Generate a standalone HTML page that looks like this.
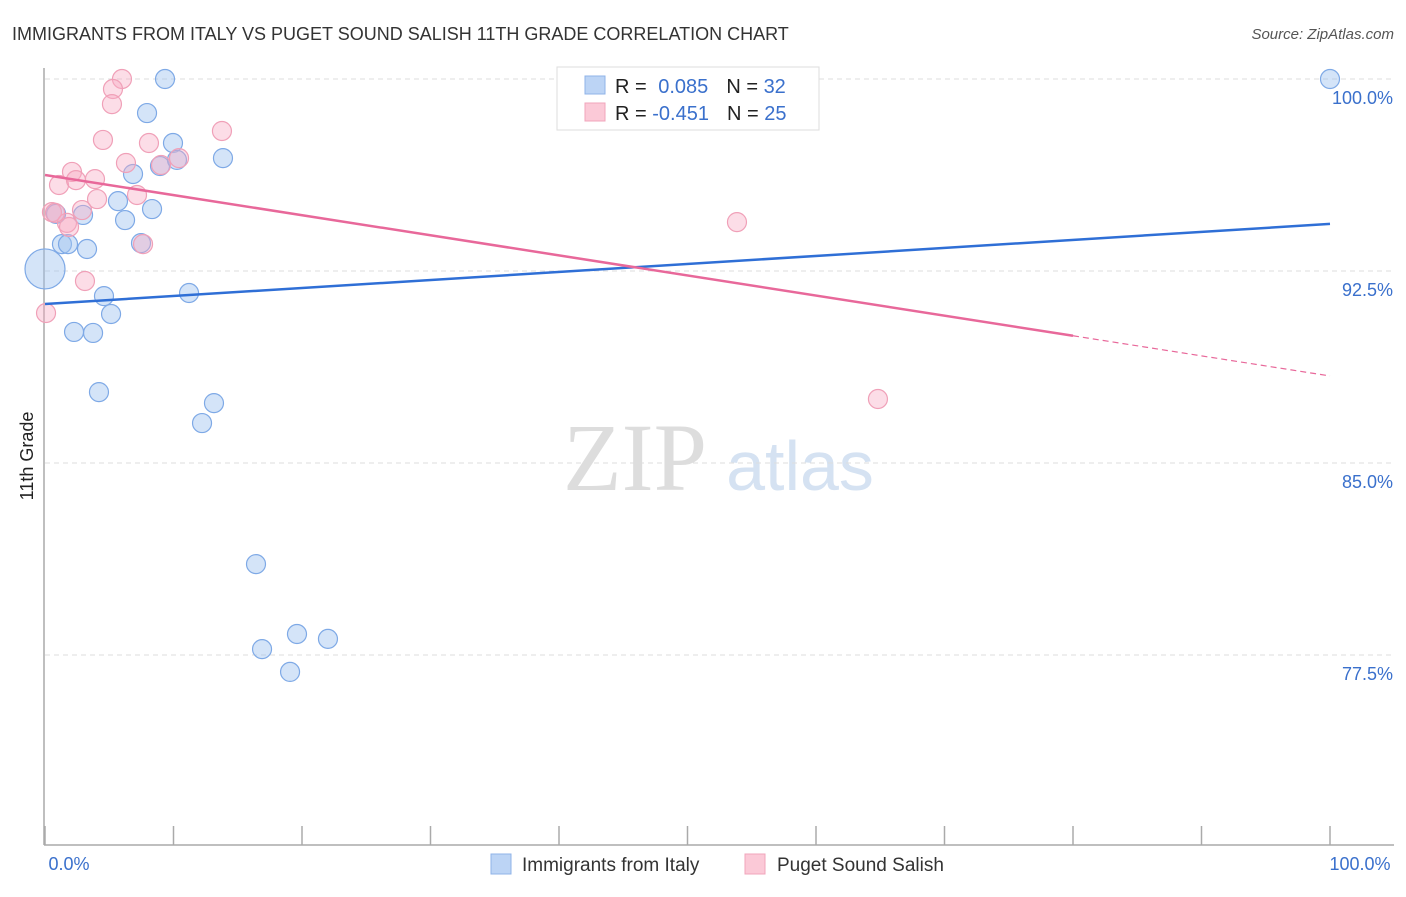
<!DOCTYPE html>
<html><head><meta charset="utf-8"><style>
body{margin:0;background:#fff;font-family:"Liberation Sans",sans-serif}
</style></head><body>
<svg id="c" width="1406" height="892" xmlns="http://www.w3.org/2000/svg" font-family="Liberation Sans, sans-serif">
<text x="12" y="40" font-size="18" fill="#333">IMMIGRANTS FROM ITALY VS PUGET SOUND SALISH 11TH GRADE CORRELATION CHART</text>
<text x="1394" y="39" font-size="15" fill="#555" font-style="italic" text-anchor="end">Source: ZipAtlas.com</text>
<text x="33" y="456" font-size="18" fill="#222" transform="rotate(-90 33 456)" text-anchor="middle">11th Grade</text>
<g><text x="635" y="490" font-size="96" fill="#ddd" font-family="Liberation Serif, serif" text-anchor="middle">ZIP</text><text x="800" y="490" font-size="70" fill="#d5e2f2" text-anchor="middle">atlas</text></g>
<g id="grid"></g><g id="marks"></g>
<g>
<rect x="557" y="67" width="262" height="63" fill="#fff" stroke="#ddd"/>
<rect x="585" y="76" width="20" height="18" fill="#bcd4f5" stroke="#8fb3e8"/>
<rect x="585" y="103" width="20" height="18" fill="#fbc9d7" stroke="#f0a5bb"/>
<text x="615" y="93" font-size="20" fill="#222">R = <tspan fill="#3a70cc" dx="6">0.085</tspan><tspan dx="18" fill="#222">N = </tspan><tspan fill="#3a70cc">32</tspan></text>
<text x="615" y="120" font-size="20" fill="#222">R = <tspan fill="#3a70cc">-0.451</tspan><tspan dx="18" fill="#222">N = </tspan><tspan fill="#3a70cc">25</tspan></text>
</g>
<g>
<rect x="491" y="854" width="20" height="20" fill="#bcd4f5" stroke="#8fb3e8"/>
<text x="522" y="871" font-size="19" fill="#333">Immigrants from Italy</text>
<rect x="745" y="854" width="20" height="20" fill="#fbc9d7" stroke="#f0a5bb"/>
<text x="777" y="871" font-size="19" fill="#333">Puget Sound Salish</text>
</g>
</svg>
<script>
const yTicks=[100,92.5,85,77.5];
const yTickLabels=["100.0%","92.5%","85.0%","77.5%"];
const xTicks=[0,10,20,30,40,50,60,70,80,90,100];
const italyX=[9.34,7.94,9.96,13.85,8.95,10.27,6.85,5.68,8.33,6.23,2.96,0.86,1.32,1.79,3.27,7.47,0,4.59,11.21,5.14,2.26,3.74,4.2,13.15,12.22,16.42,19.61,22.02,16.89,19.07,100,44.75];
const italyY=[100,98.67,97.5,96.91,96.6,96.84,96.29,95.23,94.92,94.49,94.69,94.73,93.55,93.55,93.36,93.59,92.58,91.52,91.64,90.82,90.12,90.08,87.77,87.34,86.56,81.05,78.32,78.13,77.73,76.84,100,100.08];
const italyBig=[16];
const salishX=[5.99,5.29,5.21,13.77,4.51,8.09,6.3,10.43,9.03,2.1,1.09,2.41,3.89,7.16,4.05,2.88,0.54,1.71,1.87,7.63,3.11,0.08,53.85,64.82,0.78];
const salishY=[100,99.61,99.02,97.97,97.62,97.5,96.72,96.91,96.64,96.37,95.86,96.05,96.09,95.47,95.31,94.88,94.8,94.38,94.22,93.55,92.11,90.86,94.41,87.5,94.77];
const italyTrend=[91.21,94.34];
const salishTrend=[96.25,88.4];
const salishSolidEnd=80;
const NS="http://www.w3.org/2000/svg";
const sx=v=>45+v*12.85, sy=v=>79+(100-v)*25.6;
function mk(t,a,p){const e=document.createElementNS(NS,t);for(const k in a)e.setAttribute(k,a[k]);p.appendChild(e);return e;}
const g=document.getElementById('grid'),m=document.getElementById('marks');
mk('line',{x1:44,y1:68,x2:44,y2:845,stroke:'#aaa','stroke-width':1.5},g);
mk('line',{x1:44,y1:845,x2:1394,y2:845,stroke:'#aaa','stroke-width':1.5},g);
yTicks.forEach((v,i)=>{
 const l=mk('line',{x1:45,x2:1394,y1:sy(v),y2:sy(v),stroke:'#ddd','stroke-dasharray':'5,4'},g);
 
 
 const t=mk('text',{x:1393,y:sy(v)+25,'font-size':18,fill:'#3a70cc','text-anchor':'end'},g);t.textContent=yTickLabels[i];
 
 
});
xTicks.forEach(v=>{
 const l=mk('line',{x1:sx(v),x2:sx(v),y1:826,y2:845,stroke:'#aaa','stroke-width':1.5},g);
 
 
});
[[0,"0.0%",69],[100,"100.0%",1360]].forEach(a=>{const t=mk('text',{x:a[2],y:870,'font-size':18,fill:'#3a70cc','text-anchor':'middle'},g);t.textContent=a[1];
 
 });
italyX.forEach((x,i)=>{const c=mk('circle',{cx:sx(x),cy:sy(italyY[i]),r:italyBig.includes(i)?20:9.5,fill:'rgba(160,195,240,0.45)',stroke:'#7ea9e6','stroke-width':1.2},m);
 
 });
salishX.forEach((x,i)=>{const c=mk('circle',{cx:sx(x),cy:sy(salishY[i]),r:9.5,fill:'rgba(248,170,195,0.4)',stroke:'#f0a0b8','stroke-width':1.2},m);
 
 });
let l=mk('line',{x1:sx(0),y1:sy(italyTrend[0]),x2:sx(100),y2:sy(italyTrend[1]),stroke:'#2f6fd6','stroke-width':2.5},m);


const sv=x=>salishTrend[0]+(salishTrend[1]-salishTrend[0])*x/100;
l=mk('line',{x1:sx(0),y1:sy(sv(0)),x2:sx(salishSolidEnd),y2:sy(sv(salishSolidEnd)),stroke:'#e8689a','stroke-width':2.5},m);


l=mk('line',{x1:sx(salishSolidEnd),y1:sy(sv(salishSolidEnd)),x2:sx(100),y2:sy(sv(100)),stroke:'#e8689a','stroke-width':1.2,'stroke-dasharray':'6,4'},m);


</script>
</body></html>
